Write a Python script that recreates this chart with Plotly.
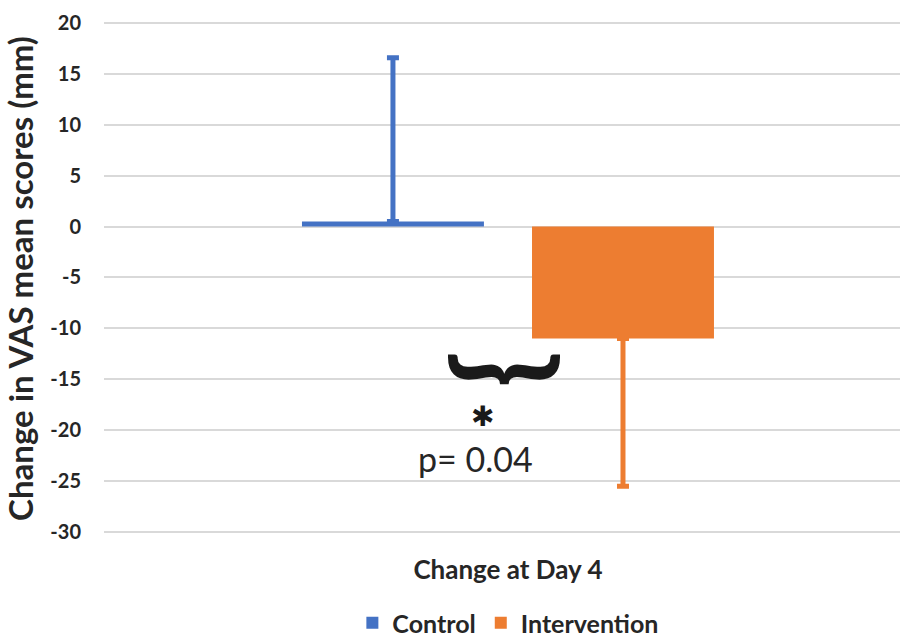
import plotly.graph_objects as go

# Mean change in VAS score at day 4, with one-sided error bars
category = ["Change at Day 4"]
series_names = ["Control", "Intervention"]
control_mean = [0.5]
control_err_up = [16.1]
intervention_mean = [-11.0]
intervention_err_down = [14.5]
y_ticks = [20, 15, 10, 5, 0, -5, -10, -15, -20, -25, -30]
p_value_label = "p= 0.04"
significance_mark = "\u2731"

BLUE = "#4472C4"
ORANGE = "#ED7D31"
TEXT = "#262626"
FONT = "Lato"

fig = go.Figure()
fig.add_trace(go.Bar(
    name=series_names[0], x=category, y=control_mean,
    marker=dict(color=BLUE, line=dict(width=0)),
    error_y=dict(type="data", symmetric=False, array=control_err_up,
                 arrayminus=[0], color=BLUE, thickness=5, width=6),
))
fig.add_trace(go.Bar(
    name=series_names[1], x=category, y=intervention_mean,
    marker=dict(color=ORANGE, line=dict(width=0)),
    error_y=dict(type="data", symmetric=False, array=[0],
                 arrayminus=intervention_err_down, color=ORANGE, thickness=5, width=6),
))

# Significance bracket, star and p-value between the two bars
fig.add_annotation(text="<b>}</b>", textangle=90, xref="paper", yref="y", x=0.514, y=-14.0,
                   showarrow=False, font=dict(family=FONT, size=120, color="#1a1a1a"))
fig.add_annotation(text=significance_mark, xref="paper", yref="y", x=0.475, y=-18.7,
                   showarrow=False, font=dict(family="DejaVu Sans", size=28, color="#1a1a1a"))
fig.add_annotation(text=p_value_label, xref="paper", yref="y", x=0.467, y=-22.75,
                   showarrow=False, font=dict(family=FONT, size=34, color=TEXT))

fig.update_layout(
    width=900, height=637,
    margin=dict(l=104, r=0, t=22, b=102, autoexpand=False),
    paper_bgcolor="white", plot_bgcolor="white",
    barmode="group", bargap=0.422, bargroupgap=0.209,
    font=dict(family=FONT, color=TEXT),
    showlegend=True,
    legend=dict(orientation="h", x=0.508, xanchor="center",
                yref="container", y=1 - 623 / 637, yanchor="middle",
                font=dict(family=FONT, size=25, color=TEXT, weight="bold"),
                itemsizing="constant"),
    xaxis=dict(range=[-0.5075, 0.4925], showgrid=False, showline=False, zeroline=False,
               automargin=False, ticks="", ticklabelstandoff=17,
               tickfont=dict(family=FONT, size=26, color=TEXT, weight="bold")),
    yaxis=dict(range=[-30.3, 20.1], tickvals=y_ticks, ticktext=[str(v) for v in y_ticks],
               showgrid=True, gridcolor="#d9d9d9", gridwidth=1.5,
               zeroline=False, showline=False, ticks="", ticklabelstandoff=22,
               automargin=False,
               tickfont=dict(family=FONT, size=20, color=TEXT, weight="bold"),
               title=dict(text="Change in VAS mean scores (mm)", standoff=12,
                          font=dict(family=FONT, size=33, color=TEXT, weight="bold"))),
)

fig.write_html("out.html")
